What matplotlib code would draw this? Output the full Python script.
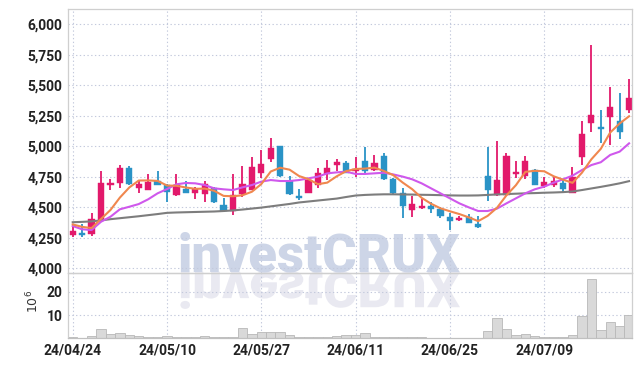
import numpy as np
import matplotlib
matplotlib.use("Agg")
import matplotlib.pyplot as plt
from matplotlib.textpath import TextPath
from matplotlib.patches import PathPatch
from matplotlib.font_manager import FontProperties
from matplotlib.transforms import Affine2D

# ---------------- data ----------------
tick_labels = ['24/04/24', '24/05/10', '24/05/27', '24/06/11', '24/06/25', '24/07/09']

opens = [4275, 4290, 4285, 4400, 4680, 4700, 4820, 4660, 4640, 4720,
         4680, 4600, 4650, 4615, 4610, 4660, 4520, 4470, 4610, 4645,
         4785, 4900, 5000, 4715, 4585, 4620, 4680, 4775, 4850, 4865,
         4795, 4880, 4805, 4920, 4730, 4615, 4475, 4495, 4510, 4485,
         4420, 4395, 4420, 4360, 4755, 4600, 4600, 4775, 4755, 4805,
         4675, 4680, 4700, 4620, 4910, 5195, 5160, 5245, 5210, 5295]
highs = [4340, 4360, 4450, 4800, 4730, 4850, 4840, 4720, 4775, 4800,
         4690, 4775, 4720, 4670, 4720, 4670, 4575, 4775, 4840, 4915,
         4970, 5065, 5005, 4760, 4650, 4730, 4820, 4890, 4900, 4880,
         4910, 4995, 4930, 4945, 4740, 4655, 4595, 4565, 4545, 4500,
         4450, 4430, 4445, 4430, 4995, 5045, 4945, 4880, 4920, 4815,
         4750, 4750, 4725, 4835, 5210, 5830, 5300, 5485, 5435, 5550]
lows = [4260, 4260, 4265, 4390, 4640, 4660, 4680, 4620, 4640, 4680,
        4545, 4590, 4620, 4565, 4545, 4535, 4465, 4435, 4585, 4640,
        4740, 4875, 4750, 4605, 4560, 4615, 4660, 4725, 4795, 4780,
        4745, 4780, 4800, 4725, 4610, 4410, 4420, 4485, 4450, 4410,
        4315, 4390, 4370, 4330, 4550, 4590, 4590, 4740, 4730, 4680,
        4655, 4670, 4620, 4615, 4845, 5120, 5025, 5010, 5060, 5270]
closes = [4310, 4275, 4405, 4700, 4700, 4820, 4690, 4690, 4705, 4680,
          4630, 4680, 4620, 4650, 4690, 4540, 4470, 4605, 4690, 4835,
          4855, 4985, 4760, 4610, 4575, 4725, 4780, 4825, 4870, 4785,
          4815, 4795, 4865, 4730, 4615, 4510, 4525, 4510, 4490, 4425,
          4390, 4410, 4375, 4335, 4640, 4725, 4920, 4790, 4880, 4685,
          4705, 4715, 4650, 4750, 5100, 5255, 5145, 5320, 5120, 5395]
volumes = [0.4, 0.3, 1.0, 3.9, 1.8, 2.1, 1.3, 0.8, 0.5, 0.5,
           1.0, 0.5, 0.5, 0.5, 1.0, 0.6, 0.5, 0.5, 4.3, 1.8,
           2.7, 2.5, 2.7, 1.5, 0.5, 0.5, 0.5, 0.5, 1.0, 1.4,
           1.4, 2.1, 0.7, 0.5, 0.5, 0.5, 0.4, 0.4, 0.3, 0.3,
           0.3, 0.3, 0.3, 0.3, 3.0, 8.6, 3.9, 1.4, 1.8, 1.2,
           0.7, 0.7, 0.7, 1.4, 9.6, 25.7, 3.6, 6.9, 5.3, 10.0]
ma_orange = [4360, 4340, 4330, 4405, 4478, 4580, 4663, 4720, 4721, 4717,
             4679, 4677, 4663, 4652, 4654, 4636, 4594, 4591, 4599, 4628,
             4691, 4794, 4825, 4809, 4757, 4731, 4690, 4703, 4755, 4797,
             4815, 4818, 4826, 4798, 4764, 4703, 4649, 4578, 4530, 4492,
             4468, 4445, 4418, 4387, 4430, 4497, 4599, 4682, 4791, 4800,
             4796, 4755, 4727, 4701, 4784, 4894, 4980, 5114, 5188, 5247]
ma_purple = [4347, 4320, 4314, 4382, 4423, 4484, 4505, 4527, 4566, 4615,
             4650, 4689, 4700, 4697, 4683, 4656, 4648, 4642, 4664, 4683,
             4711, 4724, 4716, 4716, 4724, 4738, 4752, 4779, 4787, 4793,
             4774, 4774, 4779, 4784, 4770, 4752, 4730, 4697, 4656, 4615,
             4574, 4533, 4500, 4470, 4470, 4490, 4533, 4574, 4615, 4648,
             4670, 4702, 4730, 4760, 4806, 4847, 4870, 4930, 4957, 5025]
ma_gray = [4378, 4381, 4385, 4393, 4403, 4411, 4419, 4427, 4436, 4445,
           4455, 4458, 4460, 4462, 4464, 4466, 4470, 4475, 4482, 4490,
           4498, 4508, 4518, 4528, 4540, 4548, 4556, 4564, 4572, 4585,
           4597, 4602, 4605, 4607, 4607, 4606, 4605, 4603, 4602, 4600,
           4598, 4597, 4597, 4598, 4602, 4606, 4609, 4612, 4615, 4617,
           4620, 4622, 4625, 4630, 4642, 4655, 4668, 4682, 4697, 4715]

# ---------------- figure ----------------
W, H, DPI = 642, 366, 100
fig = plt.figure(figsize=(W / DPI, H / DPI), dpi=DPI)
fig.patch.set_facecolor('white')

L, R = 68, 632
T, MID, B = 9, 272.7, 338.3
ax = fig.add_axes([L / W, 1 - MID / H, (R - L) / W, (MID - T) / H])
axv = fig.add_axes([L / W, 1 - B / H, (R - L) / W, (B - MID) / H], sharex=ax)
for a in (ax, axv):
    a.set_facecolor('none')

UP, DOWN = '#e2196b', '#2a93c6'
GRID = '#c3c9dc'
x = np.arange(len(closes))
o = np.array(opens, float)
c = np.array(closes, float)
hi = np.array(highs, float)
lo = np.array(lows, float)
colors = [UP if cc >= oo else DOWN for oo, cc in zip(o, c)]
bottoms = np.minimum(o, c)
heights = np.maximum(np.abs(c - o), 18)

ax.vlines(x, lo, hi, colors=colors, linewidth=1.3, zorder=2)
ax.bar(x, heights, bottom=bottoms, width=0.66, color=colors, edgecolor=colors,
       linewidth=0.3, zorder=2.1)
ax.plot(x, ma_gray, color='#7d7d7d', lw=1.5, zorder=3)
ax.plot(x, ma_purple, color='#cf58ec', lw=1.5, zorder=3.1)
ax.plot(x, ma_orange, color='#f0874e', lw=1.5, zorder=3.2)

ax.set_ylim(3964, 6127)
ax.set_yticks(np.arange(4000, 6001, 250))
ax.set_yticklabels([f'{v:,}' for v in range(4000, 6001, 250)])
ax.set_xlim(-0.5, 59.31)
ax.set_xticks(np.arange(0, 60, 10))
ax.tick_params(axis='x', labelbottom=False, length=0)

axv.bar(x, volumes, width=1.0, color='#d9d9d9', edgecolor='#b8b8b8', linewidth=0.6, zorder=2)
axv.set_ylim(0, 28.2)
axv.set_yticks([10, 20])
axv.set_xticks(np.arange(0, 60, 10))
axv.set_xticklabels(tick_labels)

tick_font = dict(family='Roboto', size=10, weight='bold')
for a in (ax, axv):
    a.grid(True, color=GRID, linestyle=(0, (1.2, 2.2)), linewidth=0.8)
    a.set_axisbelow(True)
    for s in a.spines.values():
        s.set_color('#cfcfcf')
        s.set_linewidth(0.9)
    a.tick_params(axis='both', length=0, colors='#222222', pad=4)
    for lab in a.get_yticklabels() + a.get_xticklabels():
        lab.set_fontproperties(FontProperties(**tick_font))
        lab.set_color('#222222')
axv.tick_params(axis='x', pad=4)
axv.spines['bottom'].set_color('#c0c0c0')

fig.text(33 / W, 1 - 301 / H, r'$10^{6}$', rotation=90, ha='center', va='center',
         fontsize=9, color='#333333')

# ---------------- watermark with reflection ----------------
wm = 'investCRUX'
fp = FontProperties(family='Roboto', weight='black')
x0, base = 178, 271.7
target_w = 282
fs = 40.0
t = fig.text(x0 / W, 1 - base / H, wm, fontproperties=fp, fontsize=fs,
             color='#cdd5e7', ha='left', va='baseline', zorder=-1)
renderer = fig.canvas.get_renderer()
w_px = t.get_window_extent(renderer=renderer).width
fs = fs * target_w / w_px
t.set_fontsize(fs)

tp = TextPath((0, 0), wm, size=fs, prop=fp)
tr = Affine2D().scale(DPI / 72.0, -DPI / 72.0 * 0.95).translate(x0, H - base)
refl = PathPatch(tp, transform=tr, facecolor='#e9e9f1', edgecolor='none', zorder=-1.5)
fig.add_artist(refl)

fig.savefig('out.png', dpi=DPI, facecolor='white')
